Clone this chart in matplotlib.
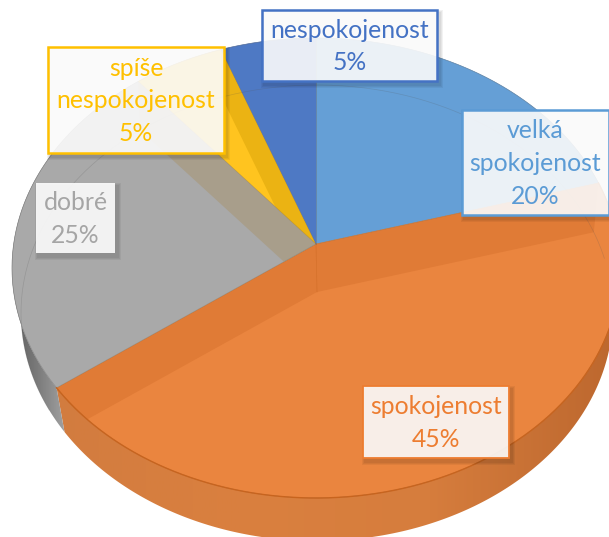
import numpy as np
import matplotlib
matplotlib.use("Agg")
import matplotlib.pyplot as plt
from matplotlib.colors import LinearSegmentedColormap
from matplotlib.patches import Polygon, Rectangle

categories = ["velká\nspokojenost", "spokojenost", "dobré", "spíše\nnespokojenost", "nespokojenost"]
shares = [20, 45, 25, 5, 5]
top_colors = ["#659FD6", "#EA853F", "#A9A9A9", "#FFC41F", "#4E79C4"]
band_colors = ["#E07B36", "#E07B36", "#A89E8B", "#EBB313"]
band_slices = [1, 1, 2, 3]
text_colors = ["#5B9BD5", "#ED7D31", "#A5A5A5", "#FFC000", "#4472C4"]

# label boxes in picture pixels: x0, y0, x1, y1
boxes = [(462, 110, 609, 215), (363, 386, 509, 458), (36, 183, 115, 253), (48, 47, 224, 153), (262, 10, 437, 81)]
edge_widths = [1.8, 1.3, 0, 1.8, 1.8]

# apex and outline of the top face and of the bottom face (perspective: apex is off centre)
TOP = dict(ax=316, ay=244, cx=316, cy=268, rx=304, ry=230)
BOT = dict(ax=317, ay=292, cx=317, cy=313, rx=296, ry=228)
DIR_RX, DIR_BACK, DIR_FRONT = 304, 202, 232


def rim(t, g):
    # ray from the apex in the slice direction, cut with the outline ellipse
    t = np.radians(np.atleast_1d(t))
    c = np.cos(t)
    dx = DIR_RX * np.sin(t)
    dy = -np.where(c > 0, DIR_BACK, DIR_FRONT) * c
    ox, oy = g["ax"] - g["cx"], g["ay"] - g["cy"]
    A = (dx / g["rx"]) ** 2 + (dy / g["ry"]) ** 2
    B = 2 * (ox * dx / g["rx"] ** 2 + oy * dy / g["ry"] ** 2)
    C = (ox / g["rx"]) ** 2 + (oy / g["ry"]) ** 2 - 1
    s = (-B + np.sqrt(B ** 2 - 4 * A * C)) / (2 * A)
    return np.column_stack([g["ax"] + s * dx, g["ay"] + s * dy])


def apex(g):
    return np.array([[g["ax"], g["ay"]]])


def wall(ax, ts, x0, x1, colors):
    poly = Polygon(np.vstack([rim(ts, TOP), rim(ts[::-1], BOT)]), fc="none", ec="none")
    ax.add_patch(poly)
    cmap = LinearSegmentedColormap.from_list("wall", colors)
    img = ax.imshow(np.linspace(0, 1, 256)[None, :], cmap=cmap, extent=(x0, x1, 537, 0), aspect="auto", zorder=1)
    img.set_clip_path(poly)


plt.rcParams["font.family"] = ["Lato", "DejaVu Sans"]
fig = plt.figure(figsize=(6.09, 5.37), dpi=100)
ax = fig.add_axes([0, 0, 1, 1])

edges = np.concatenate([[0], np.cumsum(shares)]) * 3.6

# outer walls
wall(ax, np.linspace(60, edges[2], 300), 50, 620, ["#D27C3F", "#DA803F", "#D67D3D", "#BC672E"])
wall(ax, np.linspace(edges[2], 300, 100), 8, 66, ["#585858", "#7a7a7a", "#A2A2A2"])

# top of each slice
slices = []
for i in range(len(shares)):
    ts = np.linspace(edges[i], edges[i + 1], 120)
    p = Polygon(np.vstack([apex(TOP), rim(ts, TOP)]), fc=top_colors[i], ec=top_colors[i], lw=0.4, zorder=2)
    ax.add_patch(p)
    slices.append(p)

# inner walls seen through the glass top, each kept inside its slice
for t, col, j in zip(edges[1:5], band_colors, band_slices):
    pts = np.vstack([apex(TOP), rim(t, TOP), rim(t, BOT), apex(BOT)])
    b = Polygon(pts, fc=col, ec="none", zorder=3)
    ax.add_patch(b)
    b.set_clip_path(slices[j])

# rim and guide lines
xy = rim(np.linspace(0, 360, 361), TOP)
ax.plot(xy[:, 0], xy[:, 1], color="#555555", lw=0.5, alpha=0.4, zorder=4)
xy = rim(np.linspace(240, 440, 200), BOT)
ax.plot(xy[:, 0], xy[:, 1], color="#555555", lw=0.5, alpha=0.22, zorder=4)
xy = rim(np.linspace(edges[1], edges[2], 200), TOP)
ax.plot(xy[:, 0], xy[:, 1], color="#C8641E", lw=1.0, zorder=4)
for t in edges[:-1]:
    xy = np.vstack([apex(TOP), rim(t, TOP)])
    ax.plot(xy[:, 0], xy[:, 1], color="#7a6a50", lw=0.5, alpha=0.4, zorder=4)
ax.plot([TOP["ax"], BOT["ax"]], [TOP["ay"], BOT["ay"]], color="#C8641E", lw=0.5, alpha=0.5, zorder=4)

# data labels
for name, share, box, ec, lw, tc in zip(categories, shares, boxes, text_colors, edge_widths, text_colors):
    x0, y0, x1, y1 = box
    for grow in (0, 2, 4):
        ax.add_patch(Rectangle((x0 + 1 - grow / 2, y0 + 2 - grow / 2), x1 - x0 + 3 + grow, y1 - y0 + 3 + grow,
                               fc="#000000", alpha=0.05, ec="none", zorder=5))
    ax.add_patch(Rectangle((x0, y0), x1 - x0, y1 - y0, fc="white", alpha=0.89, ec="none", zorder=6))
    if lw:
        ax.add_patch(Rectangle((x0, y0), x1 - x0, y1 - y0, fc="none", ec=ec, lw=lw, zorder=7))
    ax.text((x0 + x1) / 2, (y0 + y1) / 2 + 1, f"{name}\n{share}%", color=tc, fontsize=17.8,
            ha="center", va="center", linespacing=1.5, zorder=8)

ax.set_xlim(0, 609)
ax.set_ylim(537, 0)
ax.axis("off")
fig.savefig("out.png", dpi=100)
